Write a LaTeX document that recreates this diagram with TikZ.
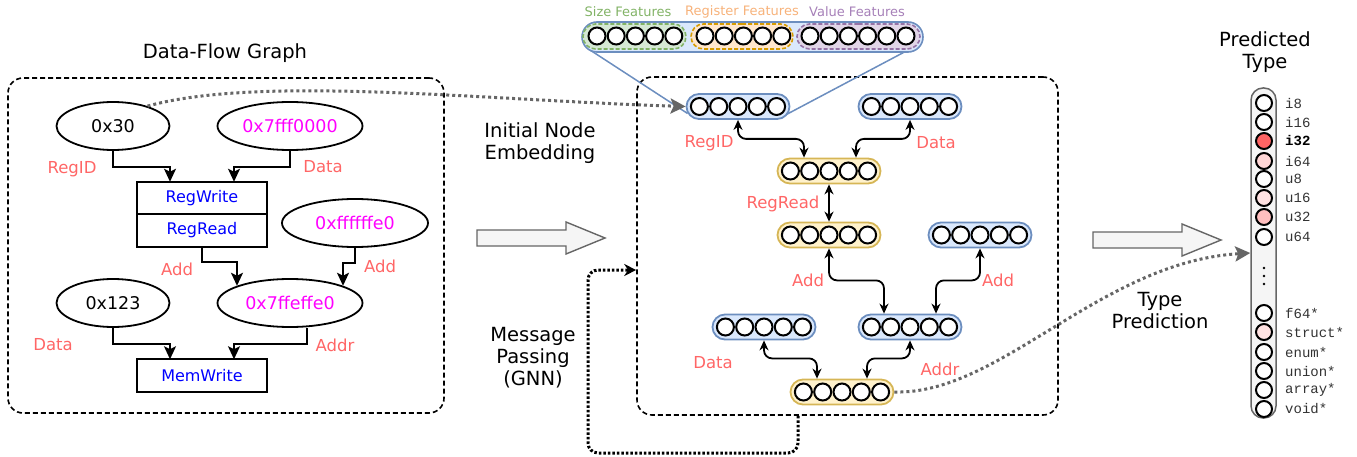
\documentclass[tikz,border=0pt]{standalone}
\usepackage{fontspec}
\setmainfont{DejaVu Sans}
\newfontfamily\typefont{Liberation Mono}
\usetikzlibrary{arrows.meta,calc,shapes.geometric,shapes.misc}

\definecolor{edgered}{HTML}{FF6666}
\definecolor{valpink}{HTML}{FF00FF}
\definecolor{opblue}{HTML}{0000FF}
\definecolor{embfill}{HTML}{DAE8FC}
\definecolor{embline}{HTML}{6C8EBF}
\definecolor{opfill}{HTML}{FFF2CC}
\definecolor{opline}{HTML}{D6B656}
\definecolor{sizefill}{HTML}{D5E8D4}
\definecolor{sizeline}{HTML}{82B366}
\definecolor{regfill}{HTML}{FFE6CC}
\definecolor{regline}{HTML}{D79B00}
\definecolor{regtext}{HTML}{F7B27A}
\definecolor{valfill}{HTML}{E1D5E7}
\definecolor{valline}{HTML}{9673A6}
\definecolor{valtext}{HTML}{A680B8}
\definecolor{arrowgray}{HTML}{666666}
\definecolor{arrowfill}{HTML}{F5F5F5}
\definecolor{hotred}{HTML}{FF6464}
\definecolor{pinkA}{HTML}{FFD6D6}
\definecolor{pinkB}{HTML}{FFBEBE}
\definecolor{pinkC}{HTML}{FFE2E2}

\tikzset{
  caption/.style={align=center, font=\fontsize{19.5}{22}\selectfont},
  groupbox/.style={draw, line width=1.6pt, dash pattern=on 5pt off 3pt, rounded corners=15pt},
  val/.style={ellipse, draw, line width=1.8pt, minimum height=48pt, inner sep=0pt, font=\fontsize{17.5}{20}\selectfont},
  opbox/.style={draw, line width=1.8pt, minimum width=130pt, minimum height=32.5pt, inner sep=0pt, outer sep=0pt, text=opblue, font=\fontsize{16}{18}\selectfont},
  elabel/.style={text=edgered, inner sep=0pt, font=\fontsize{16.5}{18}\selectfont},
  flow/.style={line width=1.8pt, -{Stealth[length=13pt,width=12pt,inset=3pt]}},
  emb/.style={rounded rectangle, draw, line width=1.8pt, minimum width=103pt, minimum height=25pt, inner sep=0pt},
  embblue/.style={emb, draw=embline, fill=embfill},
  embop/.style={emb, draw=opline, fill=opfill},
  cell/.style={draw=black, fill=white, line width=2pt},
  link/.style={line width=1.8pt, rounded corners=8pt, {Stealth[length=10pt,width=9pt]}-{Stealth[length=10pt,width=9pt]}},
  featbar/.style={rounded rectangle, draw=embline, fill=embfill, line width=1.6pt, minimum width=341pt, minimum height=30pt, inner sep=0pt},
  featgroup/.style={rounded rectangle, line width=1.6pt, dash pattern=on 4pt off 2pt, minimum height=25pt, inner sep=0pt},
  featlabel/.style={inner sep=0pt, font=\fontsize{13}{15}\selectfont},
  zoomline/.style={draw=embline, line width=1.5pt},
  hint/.style={draw=arrowgray, line width=3pt, dash pattern=on 3pt off 3pt, -{Stealth[length=15pt,width=15pt,inset=3pt,fill=arrowgray]}},
  msgloop/.style={draw=black, line width=3pt, dash pattern=on 2.5pt off 2pt, rounded corners=10pt, -{Stealth[length=12pt,width=12pt]}},
  bigarrow/.style={draw=arrowgray, fill=arrowfill, line width=1.4pt},
  typebar/.style={draw=arrowgray, fill=arrowfill, line width=1.5pt, rounded corners=12pt, minimum width=25pt, minimum height=330pt, inner sep=0pt},
  typelabel/.style={anchor=west, inner sep=0pt, text=black!80, font=\typefont\fontsize{14}{16}\selectfont},
}

% a row of feature cells: first x, y, count, pitch
\newcommand{\cellrow}[4]{\foreach \k in {1,...,#3} \draw[cell] ({#1+(\k-1)*#4},#2) circle (8.5pt);}
% an embedding pill with five cells
\newcommand{\embnode}[4]{\node[#2] (#1) at (#3,#4) {}; \cellrow{#3-38.6}{#4}{5}{19.3}}

\begin{document}
\begin{tikzpicture}[x=1pt,y=-1pt]
  %%%%% START %%%%%
  \useasboundingbox (0,0) rectangle (1357,457);

  % data-flow graph
  \node[caption] (dfgtitle) at (225,53) {Data-Flow Graph};
  \node[groupbox, minimum width=436pt, minimum height=335pt] (dfg) at (226,245.5) {};

  \node[val, minimum width=113pt] (v30) at (113,126) {0x30};
  \node[val, minimum width=145pt, text=valpink] (vstack) at (290,126) {0x7fff0000};
  \node[opbox] (rw) at (202,198) {RegWrite};
  \node[opbox, anchor=north] (rr) at (rw.south) {RegRead};
  \node[val, minimum width=146pt, text=valpink] (voff) at (355,223) {0xffffffe0};
  \node[val, minimum width=113pt] (v123) at (113,303) {0x123};
  \node[val, minimum width=145pt, text=valpink] (vaddr) at (290,303) {0x7ffeffe0};
  \node[opbox] (mw) at (202,375.5) {MemWrite};

  \draw[flow] (v30.south) -- ++(0,16) -| ([xshift=-32pt]rw.north);
  \draw[flow] (vstack.south) -- ++(0,16) -| ([xshift=32pt]rw.north);
  \draw[flow] (rr.south) -- ++(0,15) -| (vaddr.162);
  \draw[flow] (voff.south) -- ++(0,15) -| (vaddr.18);
  \draw[flow] (v123.south) -- ++(0,16) -| ([xshift=-32pt]mw.north);
  \draw[flow] ([xshift=17pt]vaddr.south) -- ++(0,16) -| ([xshift=32pt]mw.north);

  \node[elabel] (lregid) at (72,169) {RegID};
  \node[elabel] (ldata) at (323,167) {Data};
  \node[elabel] (ladd) at (177,269) {Add};
  \node[elabel] (ladd2) at (380,266) {Add};
  \node[elabel] (lconst) at (53,345) {Data};
  \node[elabel] (laddr) at (335,345) {Addr};

  % embedded graph
  \node[groupbox, minimum width=421pt, minimum height=338pt] (gnn) at (847.5,246) {};
  \embnode{eregid}{embblue}{738}{106.5}
  \embnode{edata}{embblue}{910}{106.5}
  \embnode{ewrite}{embop}{829}{171}
  \embnode{eread}{embop}{829}{235}
  \embnode{eoff}{embblue}{980}{235}
  \embnode{econst}{embblue}{764}{327}
  \embnode{eaddr}{embblue}{910}{327}
  \embnode{estore}{embop}{842}{392}

  \draw[link] (eregid.south) -- ++(0,19) -| ([xshift=-25pt]ewrite.north);
  \draw[link] (edata.south) -- ++(0,19) -| ([xshift=27pt]ewrite.north);
  \draw[link] (ewrite.south) -- (eread.north);
  \draw[link] (eread.south) -- ++(0,32) -| ([xshift=-26pt]eaddr.north);
  \draw[link] (eoff.south) -- ++(0,32) -| ([xshift=26pt]eaddr.north);
  \draw[link] (econst.south) -- ++(0,18) -| ([xshift=-25pt]estore.north);
  \draw[link] (eaddr.south) -- ++(0,18) -| ([xshift=25pt]estore.north);

  \node[elabel] (mregid) at (709,143) {RegID};
  \node[elabel] (mdata) at (936,143) {Data};
  \node[elabel] (mread) at (783,204) {RegRead};
  \node[elabel] (madd) at (808,280) {Add};
  \node[elabel] (madd2) at (998,280) {Add};
  \node[elabel] (mconst) at (713,363) {Data};
  \node[elabel] (maddr) at (940,369) {Addr};

  % feature vector
  \draw[zoomline] (590,50) -- ($(eregid.west)+(2,7)$);
  \draw[zoomline] (912,48) -- ($(eregid.east)+(-4,8)$);
  \node[featbar] (feat) at (752.5,37) {};
  \node[featgroup, draw=sizeline, fill=sizefill, minimum width=103pt] (fsize) at (634.5,36.5) {};
  \node[featgroup, draw=regline, fill=regfill, minimum width=102pt] (freg) at (742,36.5) {};
  \node[featgroup, draw=valline, fill=valfill, minimum width=123pt] (fval) at (858.5,36.5) {};
  \cellrow{597}{36}{5}{19.2}
  \cellrow{705}{36}{5}{19.2}
  \cellrow{810}{36}{6}{19.2}
  \node[featlabel, text=sizeline] (lsize) at (628,12) {Size Features};
  \node[featlabel, text=regtext] (lreg) at (742,12) {Register Features};
  \node[featlabel, text=valtext] (lval) at (857,12) {Value Features};

  % stage arrows
  \draw[bigarrow] (477,230) -- (566,230) -- (566,222) -- (605,238) -- (566,254) -- (566,246) -- (477,246) -- cycle;
  \draw[bigarrow] (1093,232) -- (1182,232) -- (1182,224) -- (1221,240) -- (1182,256) -- (1182,248) -- (1093,248) -- cycle;
  \node[caption] (initemb) at (540,143) {Initial Node\\Embedding};
  \node[caption] (msgpass) at (533,358) {Message\\Passing\\(GNN)};
  \node[caption] (typepred) at (1160,311) {Type\\Prediction};

  % predicted type
  \node[caption] (predtitle) at (1265,52) {Predicted\\Type};
  \node[typebar] (pred) at (1263.5,253) {};
  \foreach \y/\c/\t in {103/white/i8, 122/white/i16, 141/hotred/{\textbf{\color{black}i32}}, 161/pinkA/i64, 179/white/u8, 198/pinkC/u16, 217/pinkB/u32, 237/white/u64,
      313/white/f64*, 332/pinkC/struct*, 352/white/enum*, 371/white/union*, 390/white/array*, 409/white/void*}{
    \draw[cell, fill=\c] (1264,\y) circle (8pt);
    \node[typelabel] (type\y) at (1285,\y) {\t};
  }
  \foreach \y in {268,276,284} \fill (1264,\y) circle (1.4pt);

  \coordinate (mpturn) at (588,453);
  \draw[hint] (v30.30) .. controls (260,75) and (480,100) .. (eregid.west);
  \draw[hint] (estore.east) .. controls (1000,395) and (1100,262) .. (pred.west);
  \draw[msgloop] ([xshift=-49.5pt]gnn.south) |- (mpturn) |- ([yshift=-24pt]gnn.west);

  %%%%% END %%%%%
\end{tikzpicture}
\end{document}
